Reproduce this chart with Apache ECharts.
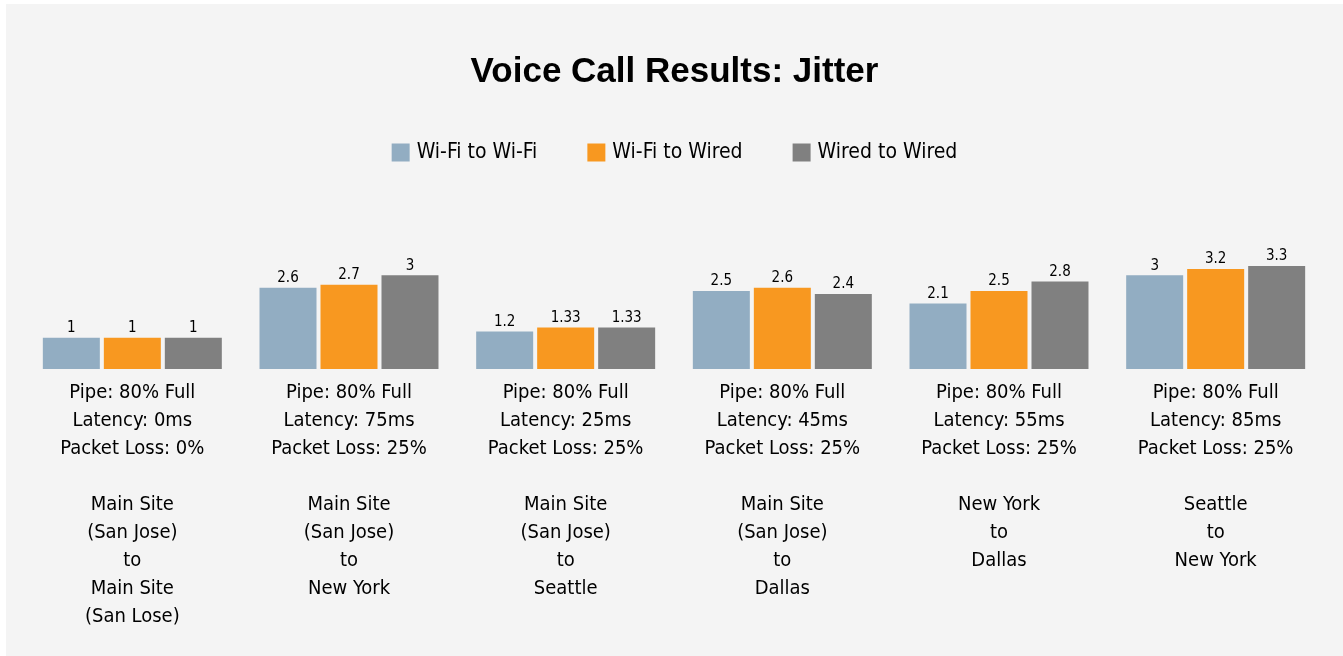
<!DOCTYPE html>
<html>
<head>
<meta charset="utf-8">
<script src="https://cdn.jsdelivr.net/npm/echarts@6/dist/echarts.min.js"></script>
<style>
  html, body { margin: 0; padding: 0; background: #fff; }
  #chart {
    position: absolute;
    left: 6px;
    top: 4px;
    width: 1337px;
    height: 652px;
    background: #f4f4f4;
  }
</style>
</head>
<body>
<div id="chart"></div>
<script>
// categories (one per test scenario)
var categories = [
  "Pipe: 80% Full\nLatency: 0ms\nPacket Loss: 0%\n \nMain Site\n(San Jose)\nto\nMain Site\n(San Lose)",
  "Pipe: 80% Full\nLatency: 75ms\nPacket Loss: 25%\n \nMain Site\n(San Jose)\nto\nNew York",
  "Pipe: 80% Full\nLatency: 25ms\nPacket Loss: 25%\n \nMain Site\n(San Jose)\nto\nSeattle",
  "Pipe: 80% Full\nLatency: 45ms\nPacket Loss: 25%\n \nMain Site\n(San Jose)\nto\nDallas",
  "Pipe: 80% Full\nLatency: 55ms\nPacket Loss: 25%\n \nNew York\nto\nDallas",
  "Pipe: 80% Full\nLatency: 85ms\nPacket Loss: 25%\n \nSeattle\nto\nNew York"
];
var seriesNames = ["Wi-Fi to Wi-Fi", "Wi-Fi to Wired", "Wired to Wired"];
var wifiToWifi = [1, 2.6, 1.2, 2.5, 2.1, 3];
var wifiToWired = [1, 2.7, 1.33, 2.6, 2.5, 3.2];
var wiredToWired = [1, 3, 1.33, 2.4, 2.8, 3.3];
var colors = ["#92adc2", "#f89820", "#808080"];

var narrow = '"Liberation Sans Narrow", "DejaVu Sans Condensed", sans-serif';

var chart = echarts.init(document.getElementById("chart"));

function barSeries(name, data) {
  return {
    name: name,
    type: "bar",
    data: data,
    barWidth: 57,
    barGap: "7%",
    label: {
      show: true,
      position: "top",
      distance: 2,
      color: "#000",
      fontSize: 15,
      fontFamily: narrow
    }
  };
}

chart.setOption({
  color: colors,
  animation: false,
  title: {
    text: "Voice Call Results: Jitter",
    left: "center",
    top: 46,
    textStyle: {
      fontFamily: '"Liberation Sans", Arial, sans-serif',
      fontWeight: "bold",
      fontSize: 35,
      color: "#000"
    }
  },
  legend: {
    top: 133,
    left: "center",
    itemWidth: 18,
    itemHeight: 18,
    itemGap: 50,
    icon: "rect",
    textStyle: {
      fontFamily: narrow,
      fontSize: 21,
      color: "#000",
      padding: [0, 0, 0, 2]
    },
    data: seriesNames
  },
  grid: {
    left: 18,
    right: 19,
    top: 240,
    bottom: 287
  },
  xAxis: {
    type: "category",
    data: categories,
    axisLine: { show: false },
    axisTick: { show: false },
    axisLabel: {
      interval: 0,
      margin: 10,
      fontFamily: narrow,
      fontSize: 20,
      lineHeight: 28,
      color: "#000",
      align: "center"
    }
  },
  yAxis: {
    type: "value",
    min: 0,
    max: 4,
    show: false,
    splitLine: { show: false }
  },
  series: [
    barSeries(seriesNames[0], wifiToWifi),
    barSeries(seriesNames[1], wifiToWired),
    barSeries(seriesNames[2], wiredToWired)
  ]
});
</script>
</body>
</html>
